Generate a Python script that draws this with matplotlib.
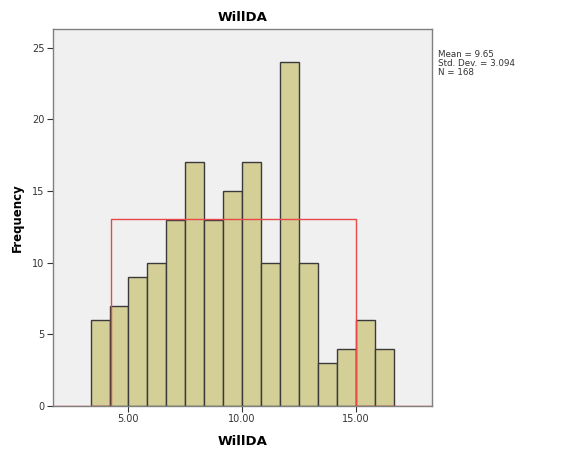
import numpy as np
import matplotlib
matplotlib.use("Agg")
import matplotlib.pyplot as plt

# histogram counts (16 bins)
bin_start = 3.35
bin_width = 0.833
counts = [6, 7, 9, 10, 13, 17, 13, 15, 17, 10, 24, 10, 3, 4, 6, 4]

# red reference line (as drawn in the picture)
curve_x = [1.7, 4.24, 4.24, 15.0, 15.0, 18.35]
curve_y = [0, 0, 13.05, 13.05, 0, 0]

xticks = [5, 10, 15]
xtick_labels = ["5.00", "10.00", "15.00"]
yticks = [0, 5, 10, 15, 20, 25]

fig = plt.figure(figsize=(5.76, 4.51), dpi=100)
ax = fig.add_axes([0.092, 0.0998, 0.658, 0.836])
ax.set_facecolor("#f0f0f0")

lefts = bin_start + bin_width * np.arange(len(counts))
ax.bar(lefts, counts, width=bin_width, align="edge",
       color="#d3cf97", edgecolor="#3a3a3a", linewidth=1.0, zorder=2)
ax.plot(curve_x, curve_y, color="#e8484a", linewidth=1.0, zorder=3)

ax.set_xlim(1.7, 18.35)
ax.set_ylim(0, 26.3)
ax.set_xticks(xticks)
ax.set_xticklabels(xtick_labels)
ax.set_yticks(yticks)
ax.tick_params(labelsize=7, colors="#333333", length=4, width=0.8, pad=2)
for s in ax.spines.values():
    s.set_color("#808080")
    s.set_linewidth(1.0)

ax.set_title("WillDA", fontsize=9.5, fontweight="bold", pad=6)
ax.set_xlabel("WillDA", fontsize=9.5, fontweight="bold", labelpad=8)
ax.set_ylabel("Frequency", fontsize=8.5, fontweight="bold", labelpad=6)

fig.text(0.76, 0.89, "Mean = 9.65\nStd. Dev. = 3.094\nN = 168",
         fontsize=6.3, va="top", ha="left", color="#333333", linespacing=1.0)

fig.savefig("out.png", dpi=100)
